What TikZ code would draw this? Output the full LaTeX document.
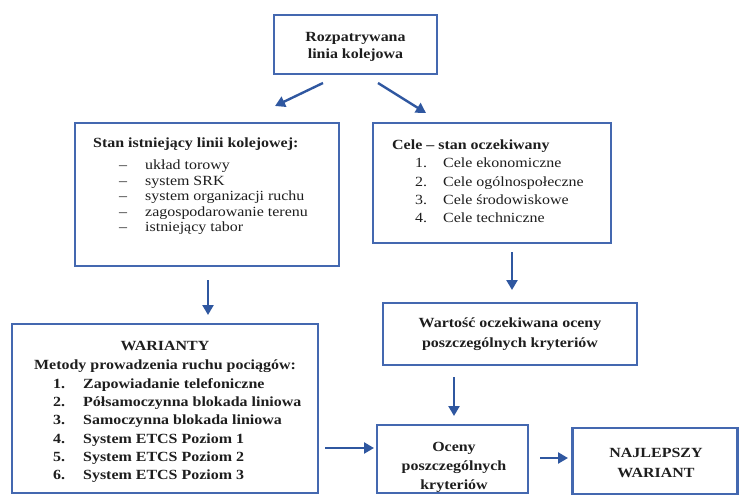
\documentclass[tikz,border=0pt]{standalone}
\usepackage{fontspec}
\setmainfont{Liberation Serif}[FakeStretch=1.14]
\usetikzlibrary{arrows.meta}
\definecolor{boxcol}{RGB}{68,104,176}
\definecolor{arrcol}{RGB}{47,87,160}
\definecolor{txtcol}{RGB}{30,30,30}
\tikzset{
  box/.style={draw=boxcol, line width=2.2pt, rectangle, inner sep=0pt, fill=white},
  txt/.style={inner sep=0pt, text=txtcol, font=\fontsize{14}{19}\selectfont\bfseries, align=center},
  lst/.style={inner sep=0pt, text=txtcol, anchor=base west},
  arr/.style={draw=arrcol, line width=2.4pt, -{Triangle[length=10pt,width=11pt]}}
}
\begin{document}
\begin{tikzpicture}[x=1pt,y=-1pt]
\useasboundingbox (0,0) rectangle (739,496);
% boxes
\node[box, minimum width=163pt, minimum height=59pt] (top) at (355.5,44.5) {};
\node[box, minimum width=264pt, minimum height=143pt] (stan) at (207,194.5) {};
\node[box, minimum width=238pt, minimum height=120pt] (cele) at (492,183) {};
\node[box, minimum width=306pt, minimum height=169pt] (war) at (165,408.5) {};
\node[box, minimum width=254pt, minimum height=62pt] (wart) at (510,334) {};
\node[box, minimum width=151pt, minimum height=68pt] (oceny) at (452.5,459) {};
\node[box, minimum width=165pt, minimum height=66pt] (naj) at (655,461) {};
% texts
\node[txt, font=\fontsize{14}{17}\selectfont\bfseries] (toptxt) at (355.5,47) {Rozpatrywana\\linia kolejowa};
\node[lst] (stantxt) at (93,147.5) {\fontsize{14}{15.6}\selectfont
  \begin{tabular}[t]{@{\hspace{26pt}}l@{\hspace{18pt}}l@{}}
  \multicolumn{2}{@{}l@{}}{\bfseries Stan istniejący linii kolejowej:}\\[6.4pt]
  – & układ torowy\\
  – & system SRK\\
  – & system organizacji ruchu\\
  – & zagospodarowanie terenu\\
  – & istniejący tabor
  \end{tabular}};
\node[lst] (celetxt) at (392,149.5) {\fontsize{14}{18.3}\selectfont
  \begin{tabular}[t]{@{\hspace{23pt}}l@{\hspace{16pt}}l@{}}
  \multicolumn{2}{@{}l@{}}{\bfseries Cele – stan oczekiwany}\\
  1. & Cele ekonomiczne\\
  2. & Cele ogólnospołeczne\\
  3. & Cele środowiskowe\\
  4. & Cele techniczne
  \end{tabular}};
\node[txt, font=\fontsize{14}{18.2}\selectfont\bfseries] (warhead) at (165,357) {WARIANTY\\Metody prowadzenia ruchu pociągów:};
\node[lst] (wartxt) at (53,388.5) {\fontsize{14}{18.2}\selectfont\bfseries
  \begin{tabular}[t]{@{}l@{\hspace{18pt}}l@{}}
  1. & Zapowiadanie telefoniczne\\
  2. & Półsamoczynna blokada liniowa\\
  3. & Samoczynna blokada liniowa\\
  4. & System ETCS Poziom 1\\
  5. & System ETCS Poziom 2\\
  6. & System ETCS Poziom 3
  \end{tabular}};
\node[txt, font=\fontsize{14}{20}\selectfont\bfseries] (warttxt) at (510,334.5) {Wartość oczekiwana oceny\\poszczególnych kryteriów};
\node[txt] (ocenytxt) at (454,467) {Oceny\\poszczególnych\\kryteriów};
\node[txt, font=\fontsize{14}{20}\selectfont\bfseries] (najtxt) at (656,462.5) {NAJLEPSZY\\WARIANT};
% arrow end points
\coordinate (a1s) at (323,83);  \coordinate (a1e) at (275,106);
\coordinate (a2s) at (378,83);  \coordinate (a2e) at (426,113);
\coordinate (a3s) at (208,280); \coordinate (a3e) at (208,315);
\coordinate (a4s) at (512,252); \coordinate (a4e) at (512,290);
\coordinate (a5s) at (454,377); \coordinate (a5e) at (454,416);
\coordinate (a6s) at (325,448); \coordinate (a6e) at (374,448);
\coordinate (a7s) at (540,458); \coordinate (a7e) at (568,458);
\draw[arr] (a1s) -- (a1e);
\draw[arr] (a2s) -- (a2e);
\draw[arr] (a3s) -- (a3e);
\draw[arr] (a4s) -- (a4e);
\draw[arr] (a5s) -- (a5e);
\draw[arr] (a6s) -- (a6e);
\draw[arr] (a7s) -- (a7e);
\end{tikzpicture}
\end{document}
